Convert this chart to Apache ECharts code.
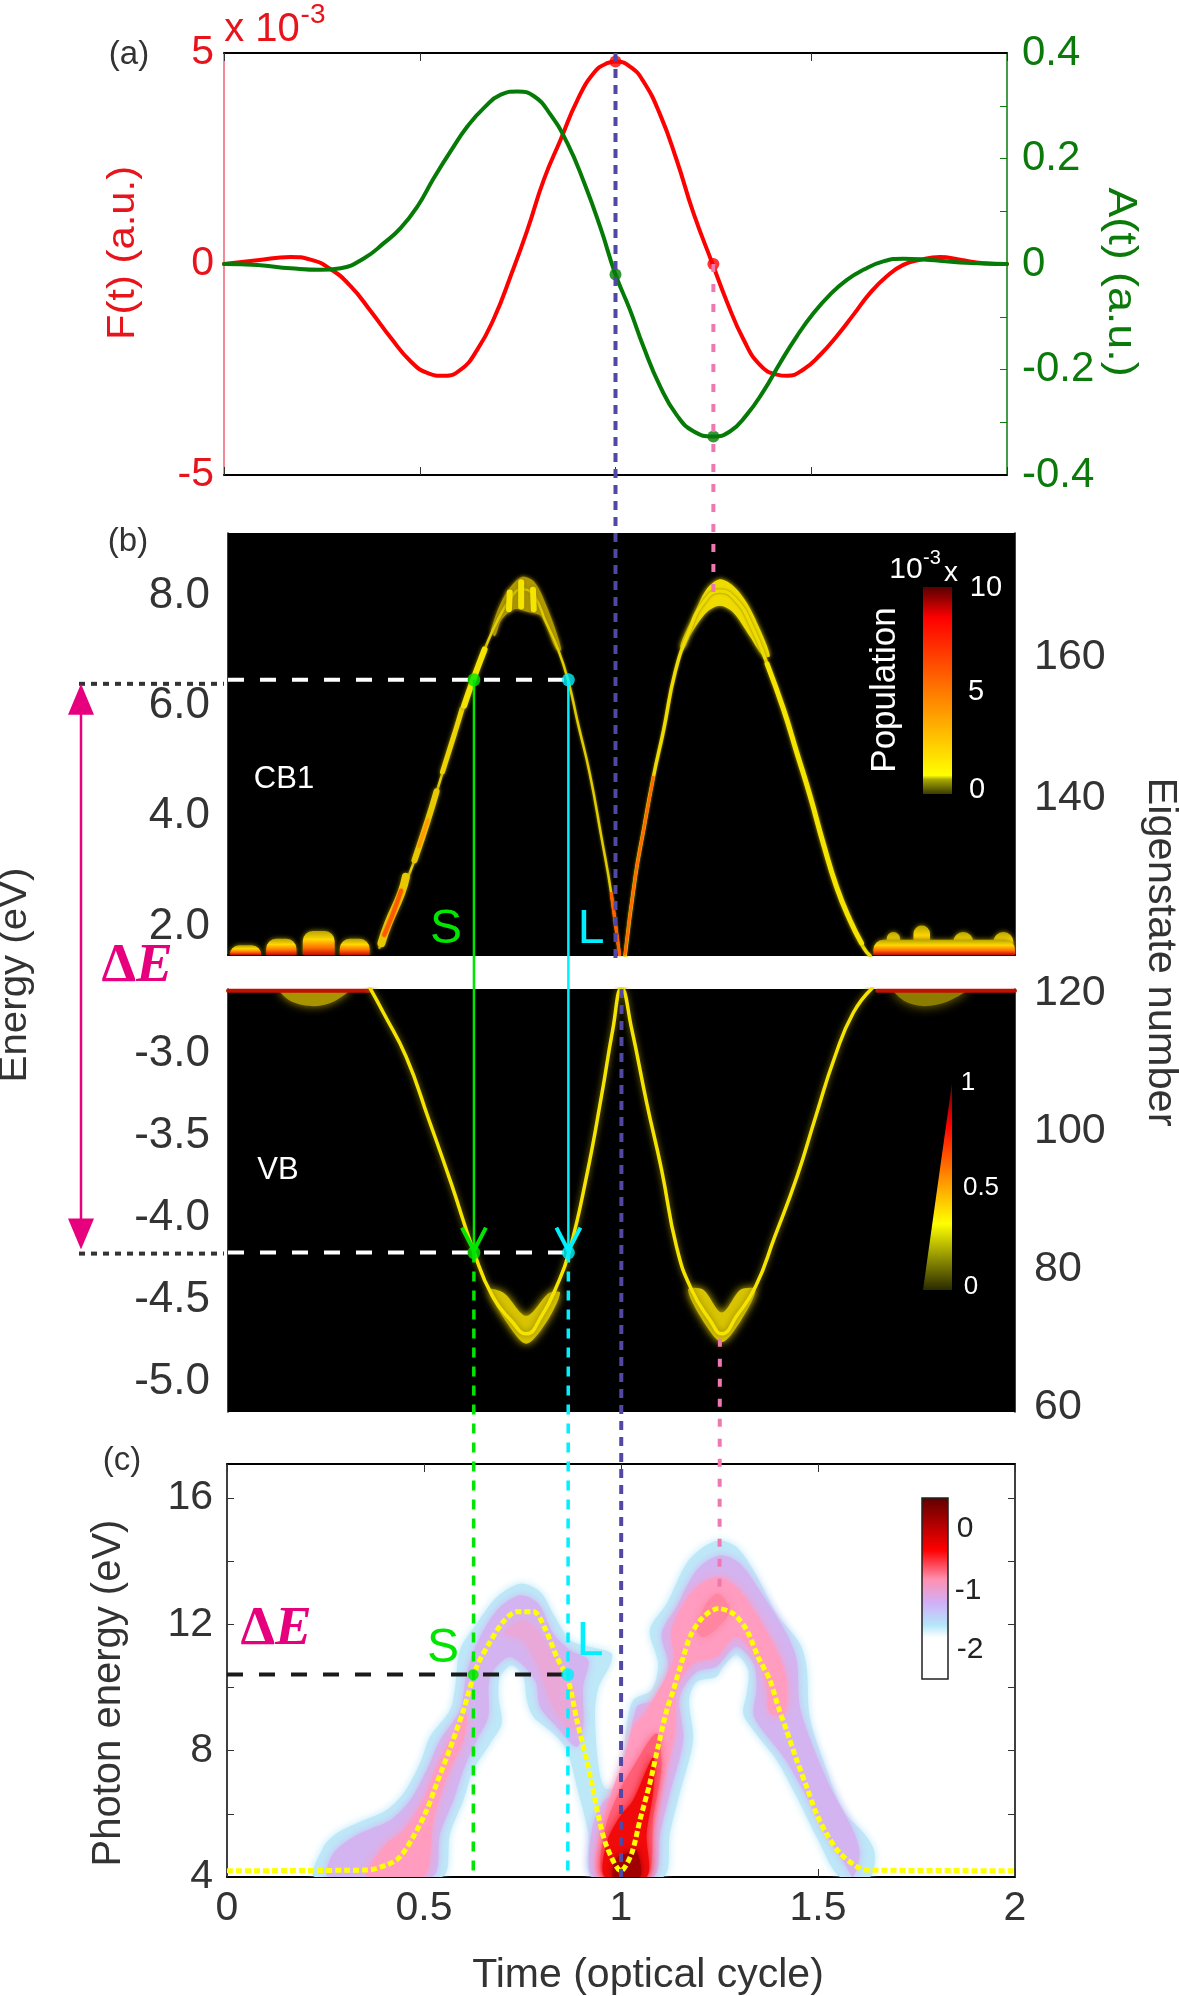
<!DOCTYPE html>
<html>
<head>
<meta charset="utf-8">
<style>
  html, body { margin: 0; padding: 0; background: #fff; }
  #chart { width: 1179px; height: 1996px; }
</style>
<script src="https://cdn.jsdelivr.net/npm/echarts@6/dist/echarts.min.js"></script>
</head>
<body>
<div id="chart"></div>
<script>
// (a) driving field and vector potential
const fieldF = [[0,0],[0.085,0.087],[0.17,0.166],[0.221,0.103],[0.272,-0.118],[0.324,-0.53],[0.375,-1.12],[0.426,-1.75],[0.477,-2.31],[0.519,-2.58],[0.562,-2.65],[0.605,-2.5],[0.647,-2.03],[0.69,-1.28],[0.732,-0.29],[0.775,0.81],[0.817,2.0],[0.86,2.95],[0.903,3.89],[0.945,4.53],[0.979,4.76],[1,4.8],[1.037,4.68],[1.071,4.33],[1.114,3.54],[1.156,2.47],[1.199,1.21],[1.248,0],[1.284,-0.88],[1.327,-1.79],[1.369,-2.39],[1.412,-2.62],[1.438,-2.65],[1.48,-2.5],[1.523,-2.15],[1.565,-1.71],[1.608,-1.2],[1.65,-0.69],[1.693,-0.29],[1.735,-0.02],[1.778,0.1],[1.829,0.166],[1.88,0.1],[1.94,0.02],[2,0]];
const potentialA = [[0,0],[0.085,-0.002],[0.17,-0.008],[0.247,-0.011],[0.298,-0.008],[0.358,0.011],[0.409,0.04],[0.451,0.068],[0.494,0.109],[0.536,0.163],[0.579,0.214],[0.622,0.261],[0.664,0.296],[0.707,0.321],[0.749,0.327],[0.792,0.318],[0.834,0.283],[0.877,0.229],[0.92,0.154],[0.962,0.068],[1,-0.02],[1.037,-0.087],[1.071,-0.156],[1.114,-0.232],[1.156,-0.286],[1.199,-0.317],[1.25,-0.327],[1.293,-0.317],[1.335,-0.286],[1.378,-0.241],[1.42,-0.188],[1.463,-0.137],[1.506,-0.093],[1.548,-0.058],[1.591,-0.03],[1.633,-0.011],[1.684,0.005],[1.735,0.01],[1.795,0.008],[1.88,0.003],[2,0]];

// (b) occupied conduction band
const cbLeft = [[0.385,1.62],[0.407,2.05],[0.44,2.6],[0.474,3.2],[0.508,3.93],[0.542,4.71],[0.576,5.5],[0.623,6.47],[0.652,7.02],[0.686,7.56],[0.72,7.96],[0.745,8.11],[0.775,8.02],[0.809,7.5],[0.839,7.02],[0.864,6.47],[0.889,5.69],[0.919,4.78],[0.949,3.62],[0.974,2.6],[0.995,1.47]];
const cbRight = [[1.009,1.47],[1.035,2.9],[1.056,3.75],[1.081,4.71],[1.107,5.56],[1.136,6.6],[1.17,7.32],[1.208,7.87],[1.25,8.08],[1.293,7.9],[1.331,7.44],[1.369,6.78],[1.412,5.93],[1.446,5.14],[1.48,4.35],[1.513,3.5],[1.547,2.71],[1.581,2.11],[1.615,1.62],[1.632,1.47]];
const cbCapLeft = [[0.669,7.38],[0.703,8],[0.745,8.33],[0.779,8.24],[0.813,7.75],[0.847,7.02],[0.834,7.02],[0.796,7.62],[0.762,7.7],[0.728,7.75],[0.695,7.56],[0.678,7.26]];
const cbCapRight = [[1.149,7.08],[1.182,7.62],[1.216,8.11],[1.25,8.29],[1.284,8.17],[1.318,7.87],[1.352,7.38],[1.377,6.9],[1.36,6.9],[1.326,7.26],[1.284,7.69],[1.25,7.81],[1.216,7.69],[1.178,7.32],[1.157,7.02]];
const cbStrand1 = [[0.716,8.05],[0.714,7.75]];
const cbStrand2 = [[0.745,8.24],[0.745,7.8]];
const cbStrand3 = [[0.775,8.1],[0.777,7.75]];
const cbPatch1 = [[0.39,1.7],[0.407,2.05],[0.44,2.6],[0.452,2.9]];
const cbPatch2 = [[0.474,3.2],[0.508,3.93],[0.53,4.45]];
const cbPatch3 = [[0.545,4.8],[0.576,5.5],[0.595,5.95]];
const cbPatch4 = [[0.6,6.0],[0.623,6.47],[0.652,7.02]];
const cbPatch5 = [[1.37,6.76],[1.412,5.93],[1.446,5.14],[1.48,4.35],[1.513,3.5],[1.547,2.71],[1.581,2.11],[1.61,1.7]];
const cbHot1 = [[0.397,1.85],[0.42,2.25],[0.44,2.65]];
const cbHot2 = [[0.485,3.45],[0.508,3.93]];
const cbHot3 = [[0.974,2.6],[0.995,1.5]];
const cbHot4 = [[1.009,1.5],[1.035,2.9],[1.056,3.75],[1.081,4.71]];
// blobs along the floor of CB1: [t start, t end, top energy]
const cbNoiseBumps = [[0.004,0.085,1.66],[0.097,0.174,1.78],[0.19,0.271,1.92],[0.284,0.36,1.78],[1.674,1.708,1.9],[1.742,1.784,2.02],[1.843,1.894,1.9],[1.945,1.996,1.9]];
const cbNoiseFloor = [[1.64,2,1.76]];

// occupied valence band
const vbBand = [[0.361,-2.6],[0.395,-2.75],[0.453,-3.02],[0.51,-3.4],[0.567,-3.79],[0.625,-4.21],[0.672,-4.48],[0.72,-4.63],[0.758,-4.71],[0.797,-4.6],[0.835,-4.42],[0.867,-4.21],[0.911,-3.75],[0.949,-3.26],[0.978,-2.85],[1,-2.6],[1.026,-2.85],[1.064,-3.3],[1.102,-3.71],[1.14,-4.18],[1.178,-4.44],[1.226,-4.63],[1.255,-4.71],[1.293,-4.6],[1.341,-4.42],[1.389,-4.12],[1.446,-3.75],[1.494,-3.38],[1.542,-3.02],[1.589,-2.75],[1.637,-2.6]];
const vbCapLeft = [[0.663,-4.44],[0.711,-4.65],[0.758,-4.77],[0.806,-4.65],[0.844,-4.46],[0.816,-4.46],[0.758,-4.6],[0.701,-4.46]];
const vbCapRight = [[1.169,-4.44],[1.207,-4.63],[1.255,-4.76],[1.303,-4.63],[1.341,-4.44],[1.303,-4.44],[1.255,-4.58],[1.207,-4.44]];
const vbTopLeft = [[0,-2.615],[0.36,-2.615]];
const vbTopRight = [[1.65,-2.615],[2,-2.615]];
const vbBlobLeft = [[0.13,-2.6],[0.16,-2.68],[0.22,-2.71],[0.27,-2.68],[0.31,-2.6]];
const vbBlobRight = [[1.69,-2.6],[1.72,-2.68],[1.77,-2.71],[1.83,-2.68],[1.88,-2.6]];

// (c) cutoff curve and contour levels of the spectrogram
const cutoffCurve = [[0,4.2],[0.355,4.22],[0.405,4.38],[0.439,4.64],[0.473,5.28],[0.507,6.12],[0.532,6.96],[0.566,8.07],[0.6,9.28],[0.634,10.66],[0.668,11.45],[0.701,12.08],[0.735,12.4],[0.778,12.4],[0.807,11.87],[0.837,10.97],[0.866,10.23],[0.888,8.97],[0.909,7.91],[0.926,6.96],[0.943,5.91],[0.964,4.96],[1,4.2],[1.027,4.75],[1.048,5.8],[1.073,6.96],[1.094,8.12],[1.116,9.28],[1.133,9.92],[1.158,10.97],[1.179,11.71],[1.209,12.24],[1.247,12.5],[1.285,12.34],[1.319,11.82],[1.348,10.97],[1.378,10.23],[1.399,9.39],[1.42,8.65],[1.446,7.7],[1.471,6.86],[1.496,6.01],[1.526,5.28],[1.556,4.75],[1.598,4.33],[1.623,4.22],[2,4.2]];
const specOuter = [[0.223,4],[0.245,4.96],[0.278,5.38],[0.329,5.7],[0.405,6.12],[0.448,6.65],[0.49,7.6],[0.515,8.44],[0.566,9.28],[0.579,10.02],[0.591,11.18],[0.634,12.03],[0.685,12.87],[0.744,13.29],[0.795,13.03],[0.828,12.34],[0.871,11.5],[0.921,11.29],[0.976,11.08],[0.972,10.71],[0.943,10.02],[0.934,9.18],[0.943,7.49],[0.959,6.81],[0.985,6.86],[1.006,7.91],[1.014,8.76],[1.031,9.6],[1.078,9.92],[1.094,10.76],[1.073,11.82],[1.116,12.66],[1.166,13.93],[1.209,14.45],[1.251,14.66],[1.293,14.45],[1.336,13.72],[1.395,12.34],[1.454,11.39],[1.471,10.66],[1.479,9.07],[1.513,7.7],[1.564,6.12],[1.623,5.28],[1.644,4.75],[1.632,4],[1.556,4],[1.496,5.28],[1.446,6.54],[1.395,7.7],[1.336,8.65],[1.31,9.18],[1.319,9.81],[1.323,10.55],[1.293,11.03],[1.259,10.66],[1.242,10.34],[1.192,10.18],[1.173,9.6],[1.183,8.34],[1.149,6.65],[1.124,5.38],[1.107,4],[0.926,4],[0.917,5.38],[0.888,6.86],[0.862,8.02],[0.828,8.55],[0.778,9.07],[0.761,9.6],[0.752,10.34],[0.723,10.71],[0.693,10.34],[0.689,9.71],[0.697,8.86],[0.668,8.23],[0.625,7.39],[0.6,6.44],[0.566,5.38],[0.545,4]];
const specMidLeft = [[0.257,4],[0.27,4.75],[0.329,5.33],[0.414,5.8],[0.465,6.44],[0.507,7.39],[0.541,8.34],[0.591,9.28],[0.608,10.44],[0.634,11.39],[0.685,12.45],[0.744,12.92],[0.79,12.66],[0.828,11.71],[0.871,11.18],[0.917,10.87],[0.904,10.02],[0.904,8.76],[0.888,8.12],[0.837,8.76],[0.794,9.39],[0.782,10.23],[0.718,10.97],[0.668,10.34],[0.663,9.07],[0.634,8.34],[0.6,7.39],[0.575,6.44],[0.541,5.38],[0.52,4]];
const specMidRight = [[0.93,4],[0.926,5.49],[0.959,6.44],[0.993,6.6],[1.014,7.6],[1.04,9.39],[1.082,9.6],[1.12,10.66],[1.103,11.71],[1.141,12.55],[1.192,13.72],[1.251,14.19],[1.302,13.93],[1.352,13.08],[1.42,11.71],[1.446,10.87],[1.454,9.39],[1.488,8.12],[1.539,6.65],[1.589,5.49],[1.606,4.75],[1.589,4],[1.572,4.33],[1.513,5.49],[1.462,6.75],[1.412,7.81],[1.352,8.76],[1.336,9.18],[1.344,10.02],[1.336,10.76],[1.293,11.29],[1.242,10.66],[1.192,10.5],[1.149,9.71],[1.158,8.34],[1.124,6.65],[1.099,5.38],[1.082,4]];
const specPinkLeft = [[0.355,4],[0.397,4.96],[0.448,5.49],[0.498,6.44],[0.532,7.49],[0.575,8.55],[0.608,9.18],[0.6,8.34],[0.558,7.18],[0.524,5.8],[0.498,4]];
const specPinkTop = [[0.701,11.71],[0.752,12.13],[0.795,11.71],[0.828,10.97],[0.879,10.02],[0.896,8.76],[0.862,8.76],[0.82,9.6],[0.79,10.66],[0.752,11.5]];
const specPinkRight = [[0.946,4],[0.942,5.17],[0.972,6.54],[1.006,7.7],[1.031,8.76],[1.065,9.28],[1.133,10.87],[1.128,11.82],[1.183,13.08],[1.247,13.5],[1.293,13.19],[1.344,12.34],[1.403,10.97],[1.42,10.23],[1.416,9.18],[1.378,9.18],[1.369,10.02],[1.352,10.76],[1.293,11.61],[1.242,10.97],[1.183,10.76],[1.141,9.92],[1.137,8.55],[1.107,6.96],[1.082,5.38],[1.065,4]];
const specPeak = [[1.192,11.82],[1.217,12.66],[1.247,12.98],[1.276,12.45],[1.247,11.92],[1.209,11.6]];
const specRose = [[0.955,4],[0.959,5.49],[0.997,6.75],[1.031,7.49],[1.09,8.55],[1.103,7.49],[1.082,5.9],[1.065,4]];
const specRed = [[0.959,4],[0.963,5.07],[0.997,5.91],[1.031,6.44],[1.082,7.81],[1.082,6.75],[1.065,5.38],[1.065,4]];
const specDark = [[0.98,4],[0.989,4.59],[1.014,4.75],[1.039,4.85],[1.048,4]];

// marked instants and energies
const tShort = 0.625;
const tLong = 0.865;
const tPeak = 1;
const tZero = 1.25;
const cbLevel = 6.47;
const vbLevel = -4.214;
const photonLevel = 10.41;

// tick labels
const tickF = [-5, 0, 5];
const tickCbEnergy = [2, 4, 6, 8];
const tickCbState = [140, 160];
const tickVbEnergy = [-5, -4.5, -4, -3.5, -3];
const tickVbState = [60, 80, 100, 120];
const tickPhoton = [4, 8, 12, 16];
const minorPhoton = [6, 8, 10, 12, 14, 16];
const minorA = [-0.3, -0.2, -0.1, 0.1, 0.2, 0.3];

const FONT = '"Liberation Sans", Arial, sans-serif';
const DARK = '#333';
const RED = '#e8141c';
const GREEN = '#0b7a0b';
const S_COLOR = '#00e600';
const L_COLOR = '#00f0ff';
const BLUE_DASH = '#5048a4';
const PINK_DASH = '#f078b0';
const MAGENTA = '#e6007e';
const YELLOW = '#f4e400';
const OLIVE = '#908000';

const chart = echarts.init(document.getElementById('chart'));

// x axis shared by all panels, only label and tick settings differ
const timeAxis = (gridIndex, position, extra) => Object.assign({
  type: 'value', gridIndex, position, min: 0, max: 2, interval: 0.5,
  axisLine: { show: true, onZero: false, lineStyle: { color: '#000', width: 2 } },
  axisTick: { show: true, inside: true, length: 8, lineStyle: { color: '#333' } },
  axisLabel: { show: false },
  splitLine: { show: false }
}, extra);

const tickLabel = (size, margin, customValues, extra) => Object.assign({
  show: true, color: DARK, fontSize: size, fontFamily: FONT, margin, customValues
}, extra);

const valueAxis = (gridIndex, position, min, max, color, extra) => Object.assign({
  type: 'value', gridIndex, position, min, max,
  axisLine: { show: true, onZero: false, lineStyle: { color, width: 1.5 } },
  axisTick: { show: false },
  axisLabel: { show: false },
  splitLine: { show: false }
}, extra);

const curve = (xAxisIndex, yAxisIndex, data, color, width, blur, glow) => ({
  type: 'line', xAxisIndex, yAxisIndex, data, smooth: 0.5, symbol: 'none', silent: true,
  lineStyle: { color, width, cap: 'round', shadowBlur: blur || 0, shadowColor: glow || color }
});

// filled contour level of a colour map, soft edge comes from the blur
const contour = (xAxisIndex, yAxisIndex, pts, color, blur) => ({
  type: 'custom', xAxisIndex, yAxisIndex, clip: true, silent: true, data: [0],
  renderItem: (params, api) => ({
    type: 'polygon',
    shape: { points: pts.map(p => api.coord(p)), smooth: 0.3 },
    style: { fill: color, shadowBlur: blur, shadowColor: color }
  })
});

// population blobs on the floor of the conduction band
const noise = (data) => ({
  type: 'custom', xAxisIndex: 2, yAxisIndex: 2, clip: true, silent: true, data,
  renderItem: (params, api) => {
    const a = api.coord([api.value(0), api.value(2)]);
    const b = api.coord([api.value(1), 1.485]);
    return {
      type: 'rect',
      shape: { x: a[0], y: a[1], width: b[0] - a[0], height: b[1] - a[1], r: [10, 10, 0, 0] },
      style: {
        fill: new echarts.graphic.LinearGradient(0, 0, 0, 1, [
          { offset: 0, color: '#b8a400' },
          { offset: 0.35, color: '#ffd800' },
          { offset: 0.7, color: '#ff7000' },
          { offset: 1, color: '#c80800' }
        ]),
        shadowBlur: 5, shadowColor: '#a09000'
      }
    };
  }
});

const dots = (xAxisIndex, yAxisIndex, data, color, size) => ({
  type: 'scatter', xAxisIndex, yAxisIndex, data, symbolSize: size, silent: true, z: 12,
  itemStyle: { color }
});

const level = (xAxisIndex, yAxisIndex, t, v, color) => ({
  type: 'line', xAxisIndex, yAxisIndex, data: [[0, v], [t, v]], symbol: 'none', silent: true, z: 11,
  lineStyle: { color, width: 4, type: [16, 16] }
});

chart.setOption({
  animation: false,
  backgroundColor: '#fff',
  grid: [
    { left: 224, top: 53, width: 783, height: 422 },
    { left: 228, top: 533, width: 787, height: 422, show: true, backgroundColor: '#000', borderWidth: 0 },
    { left: 228, top: 989, width: 787, height: 423, show: true, backgroundColor: '#000', borderWidth: 0 },
    { left: 227, top: 1464, width: 788, height: 413 }
  ],
  xAxis: [
    timeAxis(0, 'bottom'),
    timeAxis(0, 'top'),
    timeAxis(1, 'bottom', { axisTick: { show: false } }),
    timeAxis(2, 'bottom', { axisTick: { show: false }, axisLine: { show: false } }),
    timeAxis(3, 'bottom', {
      axisLabel: { show: true, color: DARK, fontSize: 41, fontFamily: FONT, margin: 11 }
    }),
    timeAxis(3, 'top')
  ],
  yAxis: [
    valueAxis(0, 'left', -5, 5, '#f06070', {
      axisLabel: tickLabel(41, 10, tickF, { color: RED })
    }),
    valueAxis(0, 'right', -0.4, 0.4, GREEN, {
      interval: 0.2,
      axisLabel: { show: true, color: GREEN, fontSize: 42, fontFamily: FONT, margin: 15, padding: [3, 0, 0, 0] },
      axisTick: { show: true, inside: true, length: 7, lineStyle: { color: GREEN }, customValues: minorA }
    }),
    valueAxis(1, 'left', 1.485, 9.13, '#000', {
      axisLabel: tickLabel(44, 18, tickCbEnergy, { formatter: v => v.toFixed(1), padding: [6, 0, 0, 0] })
    }),
    valueAxis(1, 'right', 117.7, 177.6, '#000', {
      axisLabel: tickLabel(43, 19, tickCbState, { padding: [6, 0, 0, 0] })
    }),
    valueAxis(2, 'left', -5.187, -2.605, '#000', {
      axisLabel: tickLabel(44, 18, tickVbEnergy, { formatter: v => v.toFixed(1), padding: [6, 0, 0, 0] })
    }),
    valueAxis(2, 'right', 59.3, 120.6, '#000', {
      axisLabel: tickLabel(43, 19, tickVbState, { padding: [6, 0, 0, 0] })
    }),
    valueAxis(3, 'left', 4, 17.08, '#000', {
      axisLabel: tickLabel(41, 14, tickPhoton),
      axisTick: { show: true, inside: true, length: 7, lineStyle: { color: '#333' }, customValues: minorPhoton }
    }),
    valueAxis(3, 'right', 4, 17.08, '#000', {
      axisTick: { show: true, inside: true, length: 7, lineStyle: { color: '#333' }, customValues: minorPhoton }
    })
  ],
  series: [
    // (a)
    curve(0, 0, fieldF, '#ff0000', 4),
    curve(0, 1, potentialA, '#067a06', 4),
    dots(0, 0, [[tPeak, 4.8], [tZero, 0]], '#ff0000', 12),
    dots(0, 1, [[tPeak, -0.02], [tZero, -0.327]], '#067a06', 12),

    // (b) upper
    noise(cbNoiseBumps),
    noise(cbNoiseFloor),
    contour(2, 2, cbCapLeft, '#b09800', 4),
    contour(2, 2, cbCapRight, '#eedc00', 5),
    curve(2, 2, cbLeft, '#e0cc00', 2.5, 3, OLIVE),
    curve(2, 2, cbRight, '#eedc00', 3.5, 3, OLIVE),
    curve(2, 2, cbPatch1, '#e8c800', 8, 4, OLIVE),
    curve(2, 2, cbPatch2, '#e8c800', 6, 4, OLIVE),
    curve(2, 2, cbPatch3, '#ecd400', 5, 4, OLIVE),
    curve(2, 2, cbPatch4, YELLOW, 6, 4, OLIVE),
    curve(2, 2, cbPatch5, YELLOW, 5, 4, OLIVE),
    curve(2, 2, cbStrand1, YELLOW, 6, 4, OLIVE),
    curve(2, 2, cbStrand2, YELLOW, 6, 4, OLIVE),
    curve(2, 2, cbStrand3, YELLOW, 6, 4, OLIVE),
    curve(2, 2, cbHot1, '#ff5a00', 4, 2),
    curve(2, 2, cbHot2, '#ff9a00', 3, 2),
    curve(2, 2, cbHot3, '#ff6000', 3, 1),
    curve(2, 2, cbHot4, '#ff6a00', 2.5, 1),
    level(2, 2, tLong, cbLevel, '#fff'),
    dots(2, 2, [[tShort, cbLevel]], S_COLOR, 13),
    dots(2, 2, [[tLong, cbLevel]], L_COLOR, 13),

    // (b) lower
    contour(3, 4, vbBlobLeft, '#a89400', 10),
    contour(3, 4, vbBlobRight, '#8c7c00', 12),
    curve(3, 4, vbTopLeft, '#c01000', 4),
    curve(3, 4, vbTopRight, '#c01000', 4),
    contour(3, 4, vbCapLeft, '#d8c400', 8),
    contour(3, 4, vbCapRight, '#d8c400', 8),
    curve(3, 4, vbBand, YELLOW, 3.5, 6, OLIVE),
    level(3, 4, tLong, vbLevel, '#fff'),
    dots(3, 4, [[tShort, vbLevel]], S_COLOR, 13),
    dots(3, 4, [[tLong, vbLevel]], L_COLOR, 13),

    // (c)
    contour(4, 6, specOuter, '#bde8f8', 9),
    contour(4, 6, specMidLeft, '#d4b4f0', 8),
    contour(4, 6, specMidRight, '#d4b4f0', 8),
    contour(4, 6, specPinkLeft, '#ff9cc0', 10),
    contour(4, 6, specPinkTop, '#eaa8d8', 10),
    contour(4, 6, specPinkRight, '#ff9cc0', 10),
    contour(4, 6, specPeak, '#ff85a0', 8),
    contour(4, 6, specRose, '#ff6078', 10),
    contour(4, 6, specRed, '#f00a0a', 9),
    contour(4, 6, specDark, '#a00000', 7),
    {
      type: 'line', xAxisIndex: 4, yAxisIndex: 6, data: cutoffCurve, smooth: 0.3, symbol: 'none', silent: true, z: 5,
      lineStyle: { color: '#ffff00', width: 5, type: [6, 3] }
    },
    level(4, 6, tLong, photonLevel, '#1a1a1a'),
    dots(4, 6, [[tShort, photonLevel]], S_COLOR, 11),
    dots(4, 6, [[tLong, photonLevel]], L_COLOR, 13)
  ]
});

// pixel position of a data point in one panel
const panels = {
  a: { xAxisIndex: 0, yAxisIndex: 0 },
  cb: { xAxisIndex: 2, yAxisIndex: 2 },
  vb: { xAxisIndex: 3, yAxisIndex: 4 },
  c: { xAxisIndex: 4, yAxisIndex: 6 }
};
const at = (panel, t, v) => chart.convertToPixel(panels[panel], [t, v]);

const segment = (from, to, color, width, dash) => ({
  type: 'line', z: 50, silent: true,
  shape: { x1: from[0], y1: from[1], x2: to[0], y2: to[1] },
  style: { stroke: color, lineWidth: width, lineDash: dash || null }
});

const label = (text, x, y, size, color, extra) => Object.assign({
  type: 'text', z: 60, silent: true, x, y,
  style: { text, fontSize: size, fontFamily: FONT, fill: color, align: 'center', verticalAlign: 'middle' }
}, extra);

const deltaE = (x, y) => ({
  type: 'text', z: 60, silent: true, x, y,
  style: {
    text: '{d|Δ}{e|E}', align: 'center', verticalAlign: 'middle',
    rich: {
      d: { fontSize: 55, fontWeight: 'bold', fontFamily: '"Liberation Serif", serif', fill: MAGENTA },
      e: { fontSize: 55, fontWeight: 'bold', fontStyle: 'italic', fontFamily: '"Liberation Serif", serif', fill: MAGENTA }
    }
  }
});

const chevron = (tip, color) => ({
  type: 'polyline', z: 55, silent: true,
  shape: { points: [[tip[0] - 12, tip[1] - 25], [tip[0], tip[1] - 2], [tip[0] + 12, tip[1] - 25]] },
  style: { stroke: color, lineWidth: 4, fill: null }
});

const triangle = (pts, color) => ({
  type: 'polygon', z: 55, silent: true, shape: { points: pts }, style: { fill: color }
});

const sCb = at('cb', tShort, cbLevel), lCb = at('cb', tLong, cbLevel);
const sVb = at('vb', tShort, vbLevel), lVb = at('vb', tLong, vbLevel);
const arrowX = 81;
const BLUE_PATTERN = [9, 7];
const PINK_PATTERN = [8, 12];
const COLOR_PATTERN = [10, 9];

const colorBarHot = [
  { offset: 0, color: '#5a0000' },
  { offset: 0.15, color: '#ff0000' },
  { offset: 0.5, color: '#ff7800' },
  { offset: 0.72, color: '#ffc000' },
  { offset: 0.91, color: '#ffff00' },
  { offset: 0.93, color: '#a8a800' },
  { offset: 1, color: '#3a3a00' }
];

chart.setOption({
  graphic: [
    // guides running through the panels
    segment(at('a', tPeak, 5), [at('a', tPeak, 5)[0], at('cb', tPeak, 1.485)[1] + 4], BLUE_DASH, 4, BLUE_PATTERN),
    segment(at('vb', tPeak, -2.605), at('c', tPeak, 4), BLUE_DASH, 4, BLUE_PATTERN),
    segment(at('a', tZero, 0), [at('a', tZero, 0)[0], at('cb', tZero, 7.9)[1]], PINK_DASH, 4, PINK_PATTERN),
    segment(at('vb', tZero, -4.74), at('c', tZero, 12.9), PINK_DASH, 4, PINK_PATTERN),
    segment(sCb, sVb, S_COLOR, 2.5),
    segment(lCb, lVb, L_COLOR, 2.5),
    segment(sVb, at('c', tShort, 4), S_COLOR, 3.5, COLOR_PATTERN),
    segment(lVb, at('c', tLong, 4), L_COLOR, 3.5, COLOR_PATTERN),
    chevron(sVb, S_COLOR),
    chevron(lVb, L_COLOR),

    // energy difference arrow
    segment([arrowX - 2, sCb[1] + 4], [224, sCb[1] + 4], '#333', 4, [6, 6]),
    segment([arrowX - 2, sVb[1] + 1], [224, sVb[1] + 1], '#333', 4, [6, 6]),
    segment([arrowX, sCb[1] + 30], [arrowX, sVb[1] - 30], MAGENTA, 2.5),
    triangle([[arrowX, sCb[1] + 4], [arrowX - 13, sCb[1] + 35], [arrowX + 13, sCb[1] + 35]], MAGENTA),
    triangle([[arrowX, sVb[1] - 3], [arrowX - 13, sVb[1] - 34], [arrowX + 13, sVb[1] - 34]], MAGENTA),
    deltaE(137, 967),
    deltaE(276, 1630),

    // titles
    label('(a)', 129, 55, 33, DARK),
    label('(b)', 128, 542, 33, DARK),
    label('(c)', 122, 1461, 33, DARK),
    label('x 10', 262, 30, 40, RED),
    label('-3', 313, 15, 28, RED),
    label('F(t) (a.u.)', 124, 253, 38, RED, { rotation: Math.PI / 2, scaleX: 1.1 }),
    label('A(t) (a.u.)', 1120, 282, 40, GREEN, { rotation: -Math.PI / 2, scaleX: 1.12 }),
    label('Energy (eV)', 16, 975, 38, DARK, { rotation: Math.PI / 2, scaleX: 1.06 }),
    label('Eigenstate number', 1160, 952, 40, DARK, { rotation: -Math.PI / 2, scaleX: 1.04 }),
    label('Photon energy (eV)', 109, 1693, 40, DARK, { rotation: Math.PI / 2 }),
    label('Time (optical cycle)', 648, 1976, 41, DARK),
    label('CB1', 284, 779, 31, '#fff'),
    label('VB', 278, 1170, 31, '#fff'),
    label('S', 446, 930, 48, S_COLOR),
    label('L', 591, 930, 48, L_COLOR),
    label('S', 443, 1649, 48, S_COLOR),
    label('L', 590, 1642, 48, L_COLOR),

    // population colour bar, conduction band
    {
      type: 'rect', z: 55, silent: true, shape: { x: 923, y: 587, width: 29, height: 207 },
      style: { fill: new echarts.graphic.LinearGradient(0, 0, 0, 1, colorBarHot) }
    },
    label('10', 906, 570, 30, '#fff'),
    label('-3', 932, 558, 20, '#fff'),
    label('x', 951, 573, 28, '#fff'),
    label('10', 986, 588, 29, '#fff'),
    label('5', 976, 692, 29, '#fff'),
    label('0', 977, 790, 29, '#fff'),
    label('Population', 885, 690, 35, '#fff', { rotation: Math.PI / 2 }),

    // population wedge, valence band
    {
      type: 'polygon', z: 55, silent: true, shape: { points: [[923, 1290], [952, 1290], [952, 1083]] },
      style: {
        fill: new echarts.graphic.LinearGradient(0, 0, 0, 1, [
          { offset: 0, color: '#5a0000' },
          { offset: 0.2, color: '#ff0000' },
          { offset: 0.45, color: '#ff8a00' },
          { offset: 0.68, color: '#ffff00' },
          { offset: 1, color: '#2a2a00' }
        ])
      }
    },
    label('1', 968, 1083, 26, '#fff'),
    label('0.5', 981, 1188, 26, '#fff'),
    label('0', 971, 1287, 26, '#fff'),

    // spectrogram colour bar
    {
      type: 'rect', z: 55, silent: true, shape: { x: 922, y: 1498, width: 26, height: 181 },
      style: {
        stroke: '#222', lineWidth: 1.5,
        fill: new echarts.graphic.LinearGradient(0, 0, 0, 1, [
          { offset: 0, color: '#600000' },
          { offset: 0.29, color: '#ff0000' },
          { offset: 0.45, color: '#ff90b0' },
          { offset: 0.58, color: '#d0b0f8' },
          { offset: 0.7, color: '#b4e6f8' },
          { offset: 0.77, color: '#ffffff' },
          { offset: 1, color: '#ffffff' }
        ])
      }
    },
    label('0', 965, 1529, 30, '#222'),
    label('-1', 968, 1591, 30, '#222'),
    label('-2', 970, 1650, 30, '#222')
  ]
});
</script>
</body>
</html>
